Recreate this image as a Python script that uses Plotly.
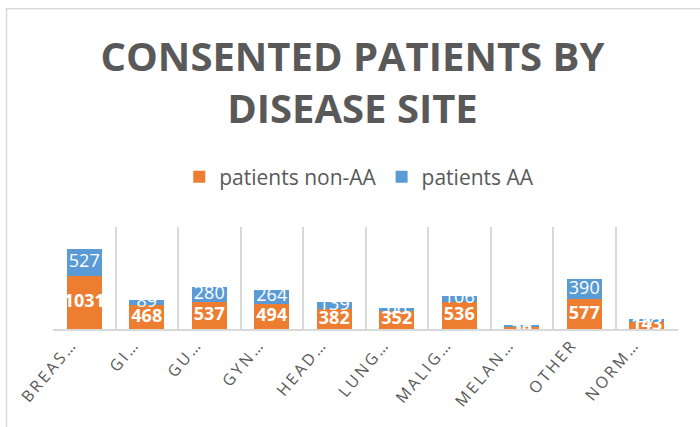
import plotly.graph_objects as go

categories = ["BREAS…", "GI…", "GU…", "GYN…", "HEAD…", "LUNG…", "MALIG…", "MELAN…", "OTHER", "NORM…"]
non_aa = [1031, 468, 537, 494, 382, 352, 536, 58, 577, 143]
aa = [527, 89, 280, 264, 139, 66, 106, 10, 390, 47]

ORANGE = "#ED7D31"
BLUE = "#5B9BD5"
GRAY = "#595959"
LINE = "#D9D9D9"

def spaced(s):
    return "\u2009".join(list(s))

tick_text = [spaced(c) for c in categories]

fig = go.Figure()
fig.add_trace(go.Bar(x=categories, y=non_aa, name="patients non-AA",
                     marker=dict(color=ORANGE, line=dict(width=0)), width=0.56,
                     hoverinfo="skip"))
fig.add_trace(go.Bar(x=categories, y=aa, name="patients AA",
                     marker=dict(color=BLUE, line=dict(width=0)), width=0.56,
                     hoverinfo="skip"))

# data labels (centered in each segment)
fig.add_trace(go.Scatter(x=categories, y=[v / 2 for v in non_aa], mode="text",
                         text=[f"<b>{v}</b>" for v in non_aa],
                         textfont=dict(family="Open Sans", size=18, color="white"),
                         showlegend=False, hoverinfo="skip", cliponaxis=False))
fig.add_trace(go.Scatter(x=categories, y=[n + a / 2 for n, a in zip(non_aa, aa)], mode="text",
                         text=[str(v) for v in aa],
                         textfont=dict(family="Open Sans", size=18, color="white"),
                         showlegend=False, hoverinfo="skip", cliponaxis=False))

fig.update_layout(
    width=700, height=427,
    margin=dict(l=53, r=22, t=227, b=98, autoexpand=False),
    barmode="stack",
    paper_bgcolor="white", plot_bgcolor="white",
    title=dict(text="<b>CONSENTED PATIENTS BY<br>DISEASE SITE</b>",
               x=0.5035, xanchor="center", y=1 - 71 / 427, yanchor="top",
               font=dict(family="Open Sans", size=40, color=GRAY)),
    legend=dict(orientation="h", x=0.49, xanchor="center", y=1.49, yanchor="middle",
                font=dict(family="Open Sans", size=21, color=GRAY), itemwidth=30,
                traceorder="normal", bgcolor="rgba(0,0,0,0)"),
    showlegend=True,
    xaxis=dict(type="category", tickson="boundaries", showgrid=True, automargin=False,
               gridcolor=LINE, gridwidth=1.5, showline=True, linecolor=LINE, linewidth=1.5,
               ticks="", tickangle=-50, tickmode="array", tickvals=categories, ticktext=tick_text,
               ticklabelshift=-14,
               tickfont=dict(family="Open Sans", size=16, color=GRAY)),
    yaxis=dict(range=[0, 1992], showgrid=False, zeroline=False, showticklabels=False,
               showline=False, automargin=False),
    shapes=[dict(type="rect", xref="paper", yref="paper",
                 x0=(6.5 - 53) / 625, x1=1.3, y0=-2, y1=(329 - 8.7) / 102,
                 line=dict(color=LINE, width=1.5), fillcolor="rgba(0,0,0,0)", layer="below")],
)

fig.write_html("out.html", config={"displayModeBar": False},
               post_script="document.body.style.margin='0';")
